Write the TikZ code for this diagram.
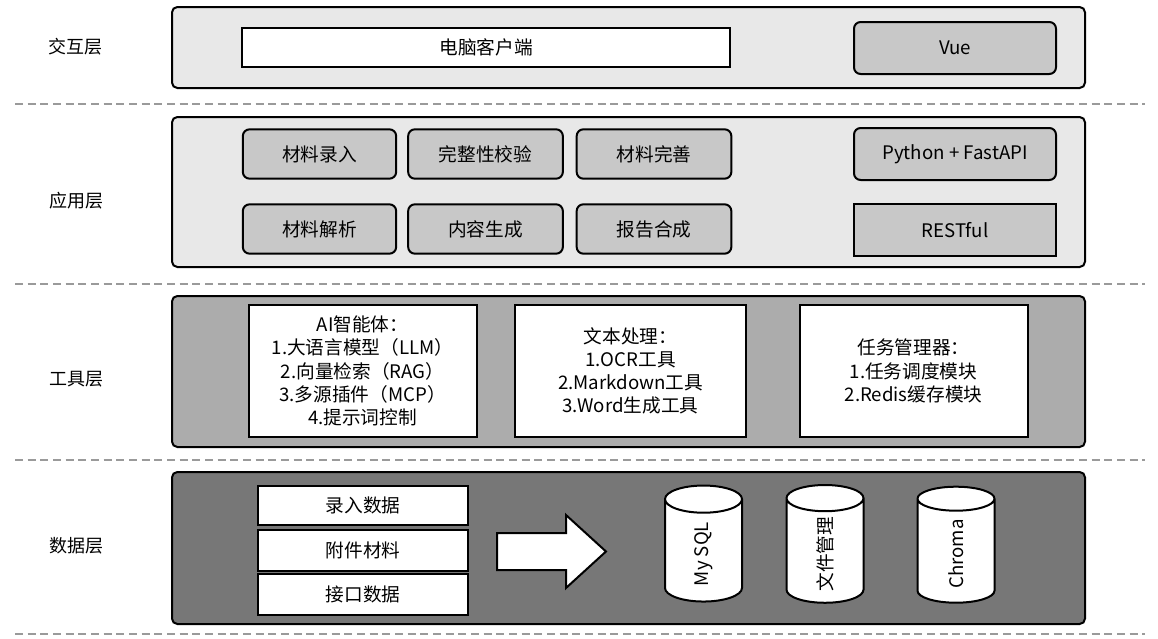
\documentclass[tikz,border=0pt]{standalone}
\usepackage{fontspec}
\setmainfont{Noto Sans CJK SC}
\usetikzlibrary{shapes.geometric}
\definecolor{layerlight}{HTML}{E8E8E8}
\definecolor{boxgray}{HTML}{C8C8C8}
\definecolor{toolgray}{HTML}{ACACAC}
\definecolor{datagray}{HTML}{777777}
\definecolor{dashgray}{HTML}{9A9A9A}
\tikzset{
  layerbox/.style={draw=black, line width=1.5pt, rounded corners=4pt, minimum width=684.75pt},
  graybox/.style={draw=black, line width=1.5pt, rounded corners=5pt, fill=boxgray, minimum height=37pt, font=\fontsize{14}{16}\selectfont},
  whitebox/.style={draw=black, line width=1.5pt, fill=white, font=\fontsize{14}{16}\selectfont},
  toolbox/.style={whitebox, minimum width=171pt, minimum height=99pt, align=center, font=\fontsize{14}{17.4}\selectfont},
  datarow/.style={whitebox, minimum width=157.5pt},
  dbcyl/.style={draw=black, line width=1.5pt, fill=white, shape=cylinder, rotate=90, aspect=1, minimum height=87pt, minimum width=57.75pt, font=\fontsize{14}{16}\selectfont},
  layerlabel/.style={font=\fontsize{13.5}{15}\selectfont},
  sepline/.style={draw=dashgray, line width=0.9pt, dash pattern=on 6pt off 3.5pt}
}
\begin{document}
\begin{tikzpicture}[x=0.75pt,y=-0.75pt]
\useasboundingbox[fill=white] (0,0) rectangle (1158,639);
% separators
\coordinate (s1a) at (15,104); \coordinate (s1b) at (1145,104);
\coordinate (s2a) at (15,284); \coordinate (s2b) at (1145,284);
\coordinate (s3a) at (15,460); \coordinate (s3b) at (1145,460);
\coordinate (s4a) at (15,634); \coordinate (s4b) at (1145,634);
\draw[sepline] (s1a) -- (s1b);
\draw[sepline] (s2a) -- (s2b);
\draw[sepline] (s3a) -- (s3b);
\draw[sepline] (s4a) -- (s4b);
% labels
\node[layerlabel] (l1) at (75,47) {交互层};
\node[layerlabel] (l2) at (77,201) {应用层};
\node[layerlabel] (l3) at (77,379) {工具层};
\node[layerlabel] (l4) at (77,546) {数据层};
% layer boxes
\node[layerbox, fill=layerlight, minimum height=60.75pt] (L1) at (628.5,47.5) {};
\node[layerbox, fill=layerlight, minimum height=112.5pt] (L2) at (628.5,192) {};
\node[layerbox, fill=toolgray, minimum height=113.25pt] (L3) at (628.5,371.5) {};
\node[layerbox, fill=datagray, minimum height=114pt] (L4) at (628.5,548) {};
% layer 1
\node[whitebox, minimum width=366pt, minimum height=29.25pt] (pc) at (486,47.5) {电脑客户端};
\node[graybox, minimum width=151.5pt, minimum height=39pt] (vue) at (955,48) {Vue};
% layer 2
\node[graybox, minimum width=115pt] (a1) at (319.5,154) {材料录入};
\node[graybox, minimum width=116pt] (a2) at (485.5,154) {完整性校验};
\node[graybox, minimum width=116pt] (a3) at (654,154) {材料完善};
\node[graybox, minimum width=115pt] (a4) at (319.5,229) {材料解析};
\node[graybox, minimum width=116pt] (a5) at (485.5,229) {内容生成};
\node[graybox, minimum width=116pt] (a6) at (654,229) {报告合成};
\node[graybox, minimum width=151.5pt, minimum height=39pt] (py) at (955,154) {Python + FastAPI};
\node[graybox, rounded corners=0pt, minimum width=151.5pt, minimum height=39pt] (rest) at (955,230) {RESTful};
% layer 3
\node[toolbox] (ai) at (362.5,371) {AI智能体：\\1.大语言模型（LLM）\\2.向量检索（RAG）\\3.多源插件（MCP）\\4.提示词控制};
\node[toolbox, minimum width=173pt] (txt) at (630.5,371) {文本处理：\\1.OCR工具\\2.Markdown工具\\3.Word生成工具};
\node[toolbox] (task) at (913.5,371) {任务管理器：\\1.任务调度模块\\2.Redis缓存模块};
% layer 4
\node[datarow, minimum height=29.25pt] (d1) at (363,505.5) {录入数据};
\node[datarow, minimum height=30.75pt] (d2) at (363,550.5) {附件材料};
\node[datarow, minimum height=30.75pt] (d3) at (363,594.5) {接口数据};
\draw[line width=1.5pt, fill=white, line join=miter]
  (497,533) -- (566,533) -- (566,515) -- (606,551.5) -- (566,588) -- (566,570) -- (497,570) -- cycle;
\node[dbcyl] (db1) at (703.5,554) {My SQL};
\node[dbcyl] (db2) at (825,554) {文件管理};
\node[dbcyl] (db3) at (956,554) {Chroma};
\end{tikzpicture}
\end{document}
